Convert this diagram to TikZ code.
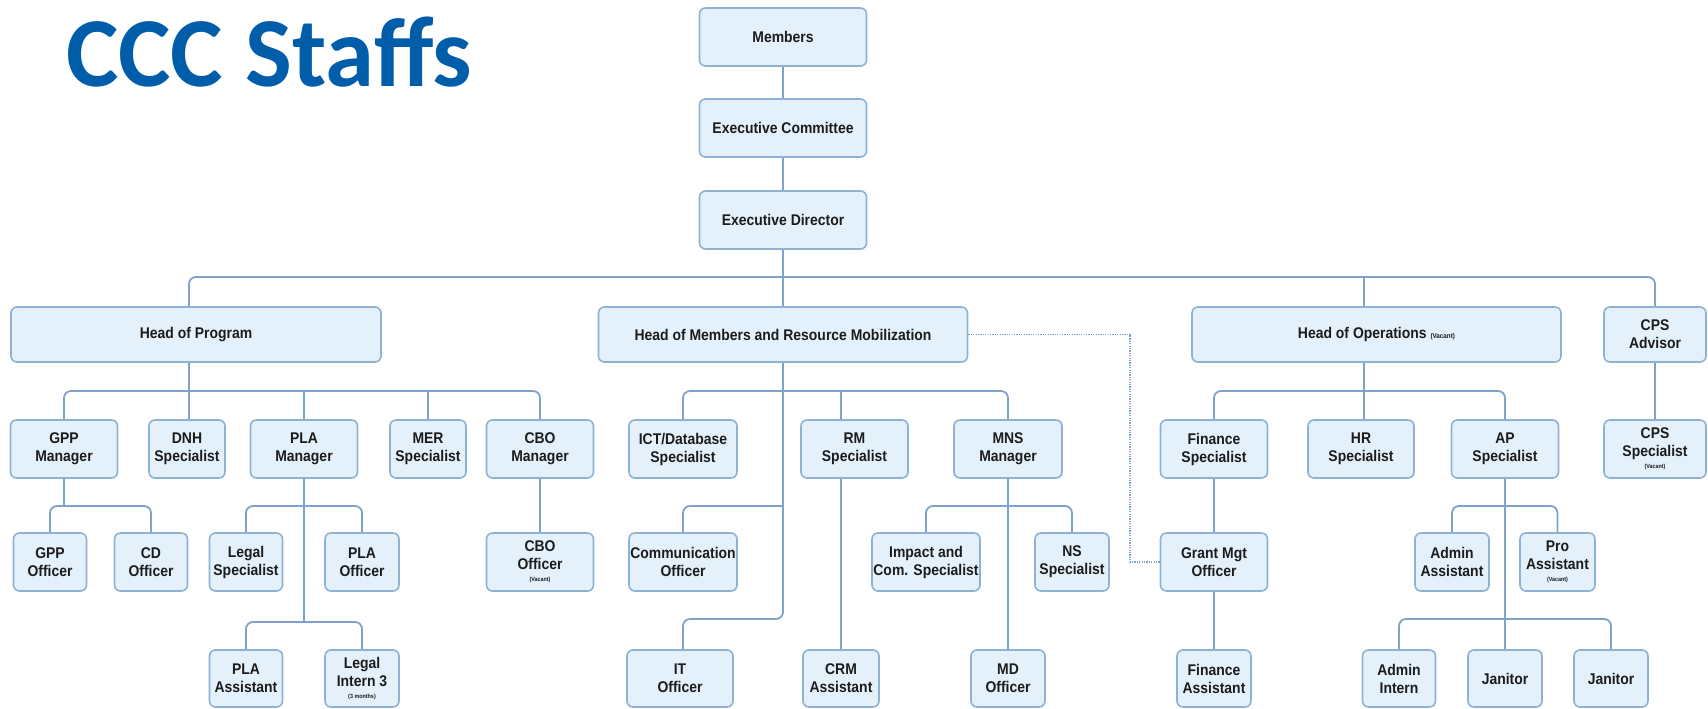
\documentclass[tikz,border=0pt]{standalone}
\usepackage{fontspec}
\setmainfont{Liberation Sans}[FakeStretch=0.9]
\newfontfamily\titlefont{Carlito}
\usetikzlibrary{calc}
\definecolor{boxfill}{HTML}{E4F1FB}
\definecolor{boxline}{HTML}{8FB1D4}
\definecolor{conncol}{HTML}{7EA2C8}
\definecolor{txt}{HTML}{1C1C1C}
\definecolor{titleblue}{HTML}{005DAA}
\newcommand\vacnote{\\[-6pt]{\fontsize{6}{6}\selectfont(Vacant)}}
\tikzset{sz/.style 2 args={minimum width=#1pt, minimum height=#2pt}}
\begin{document}
\begin{tikzpicture}[x=1pt,y=-1pt,
 box/.style={draw=boxline, fill=boxfill, line width=1.6pt, rounded corners=6pt, inner sep=0pt, align=center, text=txt, font=\fontsize{15.5}{18}\selectfont\bfseries},
 conn/.style={draw=conncol, line width=1.8pt, rounded corners=7pt},
 dotconn/.style={draw=conncol, line width=1.2pt, dash pattern=on 1.2pt off 1.2pt}]
\useasboundingbox[fill=white] (0,0) rectangle (1708,709);
\node[anchor=base west, inner sep=0pt, text=titleblue, font=\titlefont\bfseries\fontsize{99}{99}\selectfont] (title) at (66,86) {CCC Staffs};
% level 1
\node[box, sz={167}{58}] (mem) at (783,37) {Members};
\node[box, sz={167}{58}] (ec) at (783,128) {Executive Committee};
\node[box, sz={167}{58}] (ed) at (783,220) {Executive Director};
% level 2
\node[box, sz={370}{55}] (hop) at (196,334.5) {Head of Program};
\node[box, sz={369}{55}] (hmrm) at (783,334.5) {Head of Members and Resource Mobilization};
\node[box, sz={369}{55}] (hoo) at (1376.5,334.5) {Head of Operations {\fontsize{7}{7}\selectfont(Vacant)}};
\node[box, sz={102}{55}] (cps) at (1655,334.5) {CPS\\Advisor};
% level 3
\node[box, sz={107}{58}] (gppm) at (64,449) {GPP\\Manager};
\node[box, sz={76}{58}] (dnh) at (187,449) {DNH\\Specialist};
\node[box, sz={107}{58}] (plam) at (304,449) {PLA\\Manager};
\node[box, sz={76}{58}] (mer) at (428,449) {MER\\Specialist};
\node[box, sz={107}{58}] (cbom) at (540,449) {CBO\\Manager};
\node[box, sz={108}{58}] (ict) at (683,449) {ICT/Database\\Specialist};
\node[box, sz={107}{58}] (rm) at (854.5,449) {RM\\Specialist};
\node[box, sz={108}{58}] (mns) at (1008,449) {MNS\\Manager};
\node[box, sz={107}{58}] (fin) at (1214,449) {Finance\\Specialist};
\node[box, sz={106}{58}] (hr) at (1361,449) {HR\\Specialist};
\node[box, sz={107}{58}] (ap) at (1505,449) {AP\\Specialist};
\node[box, sz={102}{58}] (cpss) at (1655,449) {CPS\\Specialist\vacnote};
% level 4
\node[box, sz={73}{58}] (gppo) at (50,562) {GPP\\Officer};
\node[box, sz={73}{58}] (cdo) at (151,562) {CD\\Officer};
\node[box, sz={73}{58}] (legs) at (246,562) {Legal\\Specialist};
\node[box, sz={74}{58}] (plao) at (362,562) {PLA\\Officer};
\node[box, sz={107}{58}] (cboo) at (540,562) {CBO\\Officer\vacnote};
\node[box, sz={108}{58}] (como) at (683,562) {Communication\\Officer};
\node[box, sz={108}{58}] (imp) at (926,562) {Impact and\\Com. Specialist};
\node[box, sz={74}{58}] (ns) at (1072,562) {NS\\Specialist};
\node[box, sz={107}{58}] (gmo) at (1214,562) {Grant Mgt\\Officer};
\node[box, sz={74}{58}] (adma) at (1452,562) {Admin\\Assistant};
\node[box, sz={75}{58}] (proa) at (1557.5,562) {Pro\\Assistant\vacnote};
% level 5
\node[box, sz={73}{57}] (plaa) at (246,678.5) {PLA\\Assistant};
\node[box, sz={74}{57}] (lint) at (362,678.5) {Legal\\Intern 3\\[-6pt]{\fontsize{6}{6}\selectfont(3 months)}};
\node[box, sz={106}{57}] (ito) at (680,678.5) {IT\\Officer};
\node[box, sz={76}{57}] (crm) at (841,678.5) {CRM\\Assistant};
\node[box, sz={74}{57}] (mdo) at (1008,678.5) {MD\\Officer};
\node[box, sz={74}{57}] (fina) at (1214,678.5) {Finance\\Assistant};
\node[box, sz={73}{57}] (admi) at (1399,678.5) {Admin\\Intern};
\node[box, sz={74}{57}] (jan1) at (1505,678.5) {Janitor};
\node[box, sz={74}{57}] (jan2) at (1611,678.5) {Janitor};
% bus levels
\coordinate (tb) at (783,277);
\coordinate (b1) at (0,391);
\coordinate (b2) at (0,506);
\coordinate (b3) at (0,622);
\coordinate (b4) at (0,619);
\coordinate (dz) at (1130,0);
% connectors
\draw[conn] (mem) -- (ec);
\draw[conn] (ec) -- (ed);
\draw[conn] (ed) -- (hmrm);
\draw[conn] ([xshift=-7pt]hop.north) |- (tb) -| (cps.north);
\draw[conn] ([xshift=-12.5pt]hoo.north) -- ([xshift=-12.5pt]hoo.north |- tb);
% head of program
\draw[conn] ([xshift=-7pt]hop.south) -- ([xshift=-7pt]hop.south |- dnh.north);
\draw[conn] (gppm.north) |- (plam.north |- b1) -| (cbom.north);
\draw[conn] (plam.north |- b1) -- (plam.north);
\draw[conn] (mer.north |- b1) -- (mer.north);
\draw[conn] (gppo.north) |- (gppm.south |- b2) -| (cdo.north);
\draw[conn] (gppm.south) -- (gppm.south |- b2);
\draw[conn] (legs.north) |- (plam.south |- b2) -| (plao.north);
\draw[conn] (plam.south) -- (plam.south |- b3);
\draw[conn] (plaa.north) |- (plam.south |- b3) -| (lint.north);
\draw[conn] (cbom) -- (cboo);
% head of members
\draw[conn] (ict.north) |- (hmrm.south |- b1) -| (mns.north);
\draw[conn] ([xshift=-13.5pt]rm.north |- b1) -- ([xshift=-13.5pt]rm.north);
\draw[conn] (hmrm.south) |- ([xshift=3pt]ito.north |- b4) -- ([xshift=3pt]ito.north);
\draw[conn] (hmrm.south |- b2) -| (como.north);
\draw[conn] ([xshift=-13.5pt]rm.south) -- (crm.north);
\draw[conn] (mns.south) -- (mdo.north);
\draw[conn] (imp.north) |- (mns.south |- b2) -| (ns.north);
\draw[dotconn] (hmrm.east) -| (dz |- gmo.west) -- (gmo.west);
% head of operations
\draw[conn] (fin.north) |- ([xshift=-12.5pt]hoo.south |- b1) -| (ap.north);
\draw[conn] ([xshift=-12.5pt]hoo.south) -- ([xshift=-12.5pt]hoo.south |- hr.north);
\draw[conn] (fin) -- (gmo);
\draw[conn] (gmo) -- (fina);
\draw[conn] (ap.south) -- (jan1.north);
\draw[conn] (adma.north) |- (ap.south |- b2) -| (proa.north);
\draw[conn] (admi.north) |- (ap.south |- b4) -| (jan2.north);
\draw[conn] (cps) -- (cpss);
\end{tikzpicture}
\end{document}
